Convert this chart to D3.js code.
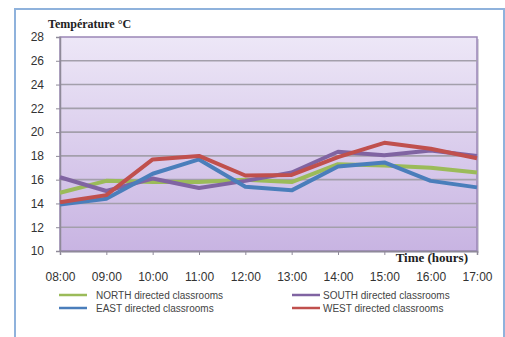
<!DOCTYPE html>
<html>
<head>
<meta charset="utf-8">
<script src="https://cdn.jsdelivr.net/npm/d3@7"></script>
<style>
  html, body { margin: 0; padding: 0; background: #fff; }
  svg { display: block; }
</style>
</head>
<body>
<svg id="chart" width="505" height="337"></svg>
<script>
// Hourly classroom temperatures by façade orientation
const hours = ["08:00","09:00","10:00","11:00","12:00","13:00","14:00","15:00","16:00","17:00"];
const north = [14.9, 15.9, 15.8, 15.8, 16.0, 15.8, 17.3, 17.2, 17.0, 16.6];
const south = [16.2, 15.05, 16.1, 15.3, 15.9, 16.6, 18.35, 18.05, 18.45, 18.0];
const east  = [13.9, 14.4, 16.5, 17.7, 15.4, 15.1, 17.1, 17.45, 15.9, 15.35];
const west  = [14.1, 14.7, 17.7, 18.0, 16.35, 16.4, 17.9, 19.1, 18.6, 17.8];
const yTicks = [10, 12, 14, 16, 18, 20, 22, 24, 26, 28];

const series = [
  { name: "NORTH directed classrooms", values: north, color: "#9bbb59" },
  { name: "SOUTH directed classrooms", values: south, color: "#8064a2" },
  { name: "EAST directed classrooms",  values: east,  color: "#4a7ebb" },
  { name: "WEST directed classrooms",  values: west,  color: "#c0504d" }
];

const svg = d3.select("#chart");
const plot = { left: 60, top: 37, right: 477, bottom: 251 };

// outer chart frame
svg.append("rect")
  .attr("x", 15).attr("y", 9).attr("width", 489).attr("height", 340)
  .attr("fill", "#fff").attr("stroke", "#8fb2dc").attr("stroke-width", 2);

const defs = svg.append("defs");
const grad = defs.append("linearGradient").attr("id", "bg").attr("x1", 0).attr("y1", 0).attr("x2", 0).attr("y2", 1);
grad.append("stop").attr("offset", "0%").attr("stop-color", "#ede7f7");
grad.append("stop").attr("offset", "100%").attr("stop-color", "#c8b4e2");

const x = d3.scalePoint().domain(hours).range([plot.left, plot.right]);
const y = d3.scaleLinear().domain([10, 28]).range([plot.bottom, plot.top]);

// plot background with a soft drop shadow
svg.append("rect")
  .attr("x", plot.left + 2).attr("y", plot.top + 2)
  .attr("width", plot.right - plot.left).attr("height", plot.bottom - plot.top)
  .attr("fill", "#b9b2c4").attr("opacity", 0.6);
svg.append("rect")
  .attr("x", plot.left).attr("y", plot.top)
  .attr("width", plot.right - plot.left).attr("height", plot.bottom - plot.top)
  .attr("fill", "url(#bg)").attr("stroke", "#9a86b6").attr("stroke-width", 1.5);

// horizontal gridlines
svg.append("g").selectAll("line").data(yTicks.slice(1, -1)).join("line")
  .attr("x1", plot.left).attr("x2", plot.right)
  .attr("y1", d => y(d)).attr("y2", d => y(d))
  .attr("stroke", "#a39fab").attr("stroke-width", 1.6);

// y axis
const yAxis = svg.append("g")
  .attr("transform", `translate(${plot.left},0)`)
  .call(d3.axisLeft(y).tickValues(yTicks).tickSize(4).tickPadding(5));
yAxis.select(".domain").attr("stroke", "#8f8a99").attr("stroke-width", 1.5);
yAxis.selectAll(".tick line").attr("stroke", "#8f8a99");
yAxis.selectAll("text").attr("font-family", "Liberation Sans, Arial, sans-serif")
  .attr("font-size", 12).attr("fill", "#333").attr("dx", -7);

// x axis
const xAxis = svg.append("g")
  .attr("transform", `translate(0,${plot.bottom})`)
  .call(d3.axisBottom(x).tickSize(4).tickPadding(17));
xAxis.select(".domain").attr("stroke", "#8f8a99").attr("stroke-width", 1.5);
xAxis.selectAll(".tick line").attr("stroke", "#8f8a99");
xAxis.selectAll("text").attr("font-family", "Liberation Sans, Arial, sans-serif")
  .attr("font-size", 12).attr("fill", "#333");

// series lines
const line = d3.line().x((d, i) => x(hours[i])).y(d => y(d));
svg.append("g").selectAll("path").data(series).join("path")
  .attr("d", s => line(s.values))
  .attr("fill", "none")
  .attr("stroke", s => s.color)
  .attr("stroke-width", 4)
  .attr("stroke-linejoin", "round");

// axis titles
svg.append("text").attr("x", 48).attr("y", 28)
  .attr("font-family", "Liberation Serif, Times New Roman, serif")
  .attr("font-weight", "bold").attr("font-size", 12).attr("fill", "#222")
  .text("Température °C");
svg.append("text").attr("x", 468).attr("y", 262).attr("text-anchor", "end")
  .attr("font-family", "Liberation Serif, Times New Roman, serif")
  .attr("font-weight", "bold").attr("font-size", 13).attr("fill", "#222")
  .text("Time (hours)");

// legend, two columns
const legendPos = [
  { lx: 59, ty: 295 }, { lx: 292, ty: 295 },
  { lx: 59, ty: 308 }, { lx: 292, ty: 308 }
];
const legend = svg.append("g").selectAll("g").data(series).join("g")
  .attr("transform", (s, i) => `translate(${legendPos[i].lx},${legendPos[i].ty})`);
legend.append("line")
  .attr("x1", 0).attr("x2", 28).attr("y1", 0).attr("y2", 0)
  .attr("stroke", s => s.color).attr("stroke-width", 2.5);
legend.append("text")
  .attr("x", (s, i) => i % 2 === 0 ? 37 : 31).attr("y", 3.5)
  .attr("font-family", "Liberation Sans, Arial, sans-serif")
  .attr("font-size", 10).attr("fill", "#444")
  .text(s => s.name);
</script>
</body>
</html>
